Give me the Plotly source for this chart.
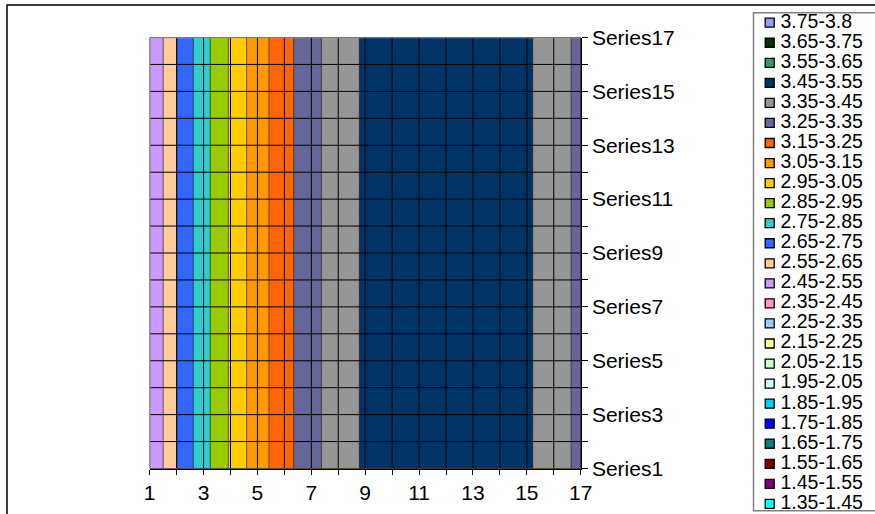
import plotly.graph_objects as go

# ---------------- data ----------------
x_categories = list(range(1, 18))
x_tick_labels = ["1", "", "3", "", "5", "", "7", "", "9", "", "11", "", "13", "", "15", "", "17"]
series_positions = list(range(1, 18))
series_tick_labels = ["Series1", "", "Series3", "", "Series5", "", "Series7", "", "Series9", "",
                      "Series11", "", "Series13", "", "Series15", "", "Series17"]

# values read per category (every series carries the same profile)
row = [2.452, 2.648, 2.813, 2.962, 3.109, 3.205, 3.335, 3.375, 3.471,
       3.49, 3.51, 3.52, 3.52, 3.51, 3.47, 3.379, 3.334]
series1 = list(row)
series2 = list(row)
series3 = list(row)
series4 = list(row)
series5 = list(row)
series6 = list(row)
series7 = list(row)
series8 = list(row)
series9 = list(row)
series10 = list(row)
series11 = list(row)
series12 = list(row)
series13 = list(row)
series14 = list(row)
series15 = list(row)
series16 = list(row)
series17 = list(row)
z_rows = [series1, series2, series3, series4, series5, series6, series7, series8, series9,
          series10, series11, series12, series13, series14, series15, series16, series17]

# legend bands, high -> low (as shown in the legend)
band_labels = ["3.75-3.8", "3.65-3.75", "3.55-3.65", "3.45-3.55", "3.35-3.45", "3.25-3.35",
               "3.15-3.25", "3.05-3.15", "2.95-3.05", "2.85-2.95", "2.75-2.85", "2.65-2.75",
               "2.55-2.65", "2.45-2.55", "2.35-2.45", "2.25-2.35", "2.15-2.25", "2.05-2.15",
               "1.95-2.05", "1.85-1.95", "1.75-1.85", "1.65-1.75", "1.55-1.65", "1.45-1.55",
               "1.35-1.45"]
band_colors = ["#9999FF", "#003300", "#339966", "#003366", "#969696", "#666699",
               "#FF6600", "#FF9900", "#FFCC00", "#99CC00", "#33CCCC", "#3366FF",
               "#FFCC99", "#CC99FF", "#FF99CC", "#99CCFF", "#FFFF99", "#CCFFCC",
               "#CCFFFF", "#00CCFF", "#0000FF", "#008080", "#800000", "#800080",
               "#00FFFF"]
level_start = 1.45
level_size = 0.1

# ---------------- figure ----------------
W, H = 875, 514
FONT = "Arial, Liberation Sans, sans-serif"

low_to_high = band_colors[::-1]
n = len(low_to_high) - 1
colorscale = [[i / n, c] for i, c in enumerate(low_to_high)]

fig = go.Figure()
fig.add_trace(go.Contour(
    x=x_categories, y=series_positions, z=z_rows,
    autocontour=False,
    contours=dict(start=level_start, end=level_start + level_size * (n - 1) + 0.001,
                  size=level_size, coloring="fill", showlines=True),
    line=dict(width=0.8, color="rgba(30,30,30,0.85)", smoothing=0),
    colorscale=colorscale, showscale=False, hoverinfo="skip",
    xaxis="x", yaxis="y",
))

# custom legend (pixel-space overlay axes)
item_y = [22.7 + i * 20.05 for i in range(len(band_labels))]
fig.add_trace(go.Scatter(
    x=[769.7] * len(band_labels), y=item_y, mode="markers",
    marker=dict(symbol="square", size=9, color=band_colors, line=dict(color="black", width=1.3)),
    xaxis="x2", yaxis="y2", hoverinfo="skip", showlegend=False, cliponaxis=False,
))
fig.add_trace(go.Scatter(
    x=[780.5] * len(band_labels), y=item_y, mode="text", text=band_labels,
    textposition="middle right", textfont=dict(family=FONT, size=19.5, color="black"),
    xaxis="x2", yaxis="y2", hoverinfo="skip", showlegend=False, cliponaxis=False,
))

shapes = []
# gridlines over the surface
for xv in x_categories:
    shapes.append(dict(type="line", xref="x", yref="y", x0=xv, x1=xv,
                       y0=series_positions[0], y1=series_positions[-1],
                       line=dict(color="black", width=1), layer="above"))
for yv in series_positions:
    shapes.append(dict(type="line", xref="x", yref="y", y0=yv, y1=yv,
                       x0=x_categories[0], x1=x_categories[-1],
                       line=dict(color="black", width=1), layer="above"))
# gray wall edges (top and left)
shapes.append(dict(type="line", xref="x", yref="y", x0=x_categories[0], x1=x_categories[-1],
                   y0=series_positions[-1], y1=series_positions[-1],
                   line=dict(color="#a0a0a0", width=1.5), layer="above"))
shapes.append(dict(type="line", xref="x", yref="y", x0=x_categories[0], x1=x_categories[0],
                   y0=series_positions[0], y1=series_positions[-1],
                   line=dict(color="#a0a0a0", width=1.5), layer="above"))
# outer chart border (cropped)
shapes.append(dict(type="rect", xref="paper", yref="paper",
                   x0=7 / W, x1=1.2, y0=-0.2, y1=(H - 5) / H,
                   line=dict(color="black", width=1.5), fillcolor="rgba(0,0,0,0)", layer="above"))
# legend box (cropped)
shapes.append(dict(type="rect", xref="paper", yref="paper",
                   x0=753.5 / W, x1=1.2, y0=(H - 510.7) / H, y1=(H - 12.7) / H,
                   line=dict(color="#808080", width=1.5), fillcolor="rgba(0,0,0,0)", layer="below"))

fig.update_layout(
    template="none",
    width=W, height=H, autosize=False,
    margin=dict(l=0, r=0, t=0, b=0, pad=0, autoexpand=False),
    paper_bgcolor="white", plot_bgcolor="rgba(0,0,0,0)",
    showlegend=False,
    font=dict(family=FONT, color="black"),
    xaxis=dict(domain=[149.7 / W, 580.7 / W], range=[1, 17], anchor="y", automargin=False,
               tickmode="array", tickvals=x_categories, ticktext=x_tick_labels,
               ticks="outside", ticklen=5, tickcolor="black", tickwidth=1,
               showgrid=False, zeroline=False, showline=True, linecolor="black", linewidth=1,
               tickfont=dict(family=FONT, size=21, color="black"), fixedrange=True),
    yaxis=dict(domain=[(H - 468.5) / H, (H - 37.5) / H], range=[1, 17], anchor="x", side="right",
               automargin=False,
               tickmode="array", tickvals=series_positions, ticktext=series_tick_labels,
               ticks="outside", ticklen=6, tickcolor="black", tickwidth=1,
               showgrid=False, zeroline=False, showline=True, linecolor="black", linewidth=1,
               tickfont=dict(family=FONT, size=21, color="black"), fixedrange=True),
    xaxis2=dict(domain=[0, 1], range=[0, W], anchor="y2", visible=False, fixedrange=True,
                automargin=False),
    yaxis2=dict(domain=[0, 1], range=[H, 0], anchor="x2", visible=False, fixedrange=True,
                automargin=False),
    shapes=shapes,
)

fig.write_html("out.html")
